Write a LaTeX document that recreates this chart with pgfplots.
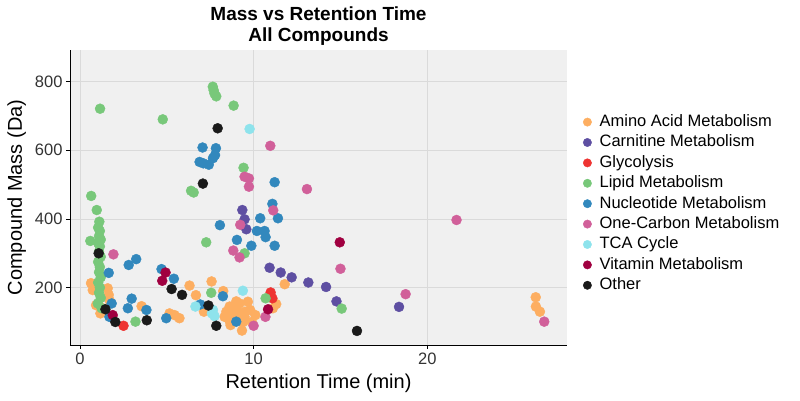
\documentclass[border=0pt]{standalone}
\usepackage{pgfplots}
\pgfplotsset{compat=1.18}
\usepackage{fontspec}
\setmainfont{Liberation Sans}
\definecolor{cAA}{HTML}{FDAE61}
\definecolor{cCA}{HTML}{5E4FA2}
\definecolor{cGL}{HTML}{EE3432}
\definecolor{cLI}{HTML}{78C87A}
\definecolor{cNU}{HTML}{3288BD}
\definecolor{cOC}{HTML}{D1609A}
\definecolor{cTC}{HTML}{8EE3EC}
\definecolor{cVI}{HTML}{A00040}
\definecolor{cOT}{HTML}{1A1A1A}
\definecolor{panel}{HTML}{F0F0F0}
\definecolor{gridc}{HTML}{DADADA}
\definecolor{tickc}{HTML}{333333}
\begin{document}
\begin{tikzpicture}
\path[use as bounding box] (-70pt,-56pt) rectangle (730pt,345pt);
\begin{axis}[
  at={(0pt,0pt)}, anchor=south west,
  width=497pt, height=295pt, scale only axis,
  xmin=-0.57, xmax=28.04, ymin=33, ymax=892,
  axis x line*=bottom, axis y line*=left,
  axis line style={-, black, line width=0.9pt},
  axis background/.style={fill=panel},
  xtick={0,10,20}, ytick={200,400,600,800},
  tick align=outside, major tick length=4pt,
  tick style={black, line width=0.8pt},
  grid=major, grid style={gridc, line width=0.8pt},
  /pgf/number format/assume math mode=true,
  tick label style={font=\fontsize{16.5}{16.5}\selectfont, text=tickc},
  xlabel={Retention Time (min)},
  ylabel={Compound Mass (Da)},
  label style={font=\fontsize{20}{20}\selectfont},
  xlabel style={at={(axis description cs:0.5,-0.129)}, anchor=center},
  ylabel style={at={(axis description cs:-0.107,0.5)}, anchor=center},
  title={Mass vs Retention Time\\All Compounds},
  title style={align=center, font=\bfseries\fontsize{19}{21.5}\selectfont, at={(axis description cs:0.5,1.061)}, anchor=center},
  legend style={at={(1.0,0.479)}, anchor=west, xshift=13pt, draw=none, fill=none,
    font=\fontsize{16.5}{16.5}\selectfont, row sep=0pt,
    nodes={text height=12.5pt, text depth=3.5pt, inner ysep=2.2pt, inner xsep=8pt}},
  legend cell align=left,
  legend image code/.code={\draw[#1, mark size=4.2pt] plot coordinates {(0.15cm,0cm)};},
  every axis plot/.append style={only marks, mark=*, mark size=5pt},
]
\addplot[color=cAA] coordinates {(0.64,213)(0.74,193)(1.6,198)(1.66,179)(1.7,164)(0.93,149)(1.18,125)(1.3,140)(3.55,146)(6.31,206)(7.58,218)(6.68,178)(8.25,190)(5.16,125)(5.45,120)(5.73,111)(7.14,130)(9.0,140)(9.67,159)(9.33,75)(8.67,91)(9.48,115)(8.43,130)(8.33,115)(9.19,154)(8.62,145)(8.8,120)(9.2,125)(9.5,130)(9.8,135)(9.9,100)(9.4,100)(8.6,105)(9.1,105)(10.1,120)(9.0,160)(11.79,210)(11.3,152)(11.11,140)(26.24,172)(26.25,145)(26.48,130)};
\addlegendentry{Amino Acid Metabolism}
\addplot[color=cCA] coordinates {(9.35,426)(9.48,399)(9.58,370)(10.92,258)(11.56,244)(12.19,230)(13.15,215)(14.17,202)(14.77,160)(18.37,144)};
\addlegendentry{Carnitine Metabolism}
\addplot[color=cGL] coordinates {(2.51,89)(10.98,186)(11.08,169)};
\addlegendentry{Glycolysis}
\addplot[color=cLI] coordinates {(1.16,721)(4.77,690)(7.65,785)(7.7,775)(7.75,765)(7.85,757)(8.85,730)(6.4,482)(6.55,477)(9.42,549)(7.27,332)(9.48,300)(7.56,185)(3.2,101)(10.69,169)(15.07,139)(0.65,467)(0.97,426)(0.6,336)(1.12,392)(1.05,375)(1.15,365)(1.1,350)(1.2,340)(1.05,330)(1.15,320)(1.1,305)(1.2,290)(1.05,275)(1.15,260)(1.1,245)(1.2,230)(1.05,215)(1.15,200)(1.1,185)(1.2,170)(1.03,154)(1.25,140)};
\addlegendentry{Lipid Metabolism}
\addplot[color=cNU] coordinates {(7.06,608)(7.83,606)(7.78,586)(7.66,577)(6.89,566)(7.42,558)(7.1,562)(11.21,507)(11.08,444)(11.4,402)(10.38,402)(8.06,382)(10.19,365)(10.63,365)(10.69,347)(9.04,339)(9.87,322)(11.21,322)(9.0,101)(2.81,266)(3.24,283)(1.66,243)(4.7,254)(5.41,226)(8.23,175)(1.83,154)(2.98,168)(2.76,140)(3.83,135)(4.97,111)(1.7,115)(6.93,151)};
\addlegendentry{Nucleotide Metabolism}
\addplot[color=cOC] coordinates {(10.96,613)(9.48,523)(9.73,518)(9.73,494)(13.07,487)(11.13,425)(9.23,383)(8.83,308)(9.19,288)(15.0,255)(18.75,181)(10.68,115)(10.0,89)(21.68,397)(26.73,101)(1.93,297)};
\addlegendentry{One-Carbon Metabolism}
\addplot[color=cTC] coordinates {(9.77,662)(9.38,191)(6.65,145)(7.66,135)(7.75,117)(7.6,125)};
\addlegendentry{TCA Cycle}
\addplot[color=cVI] coordinates {(4.93,244)(4.74,220)(1.89,120)(14.96,332)(10.83,137)};
\addlegendentry{Vitamin Metabolism}
\addplot[color=cOT] coordinates {(7.93,664)(7.08,503)(1.08,300)(1.47,137)(2.04,100)(3.85,105)(5.28,196)(5.88,179)(7.4,148)(7.85,89)(15.95,74)};
\addlegendentry{Other}
\end{axis}
\end{tikzpicture}
\end{document}
